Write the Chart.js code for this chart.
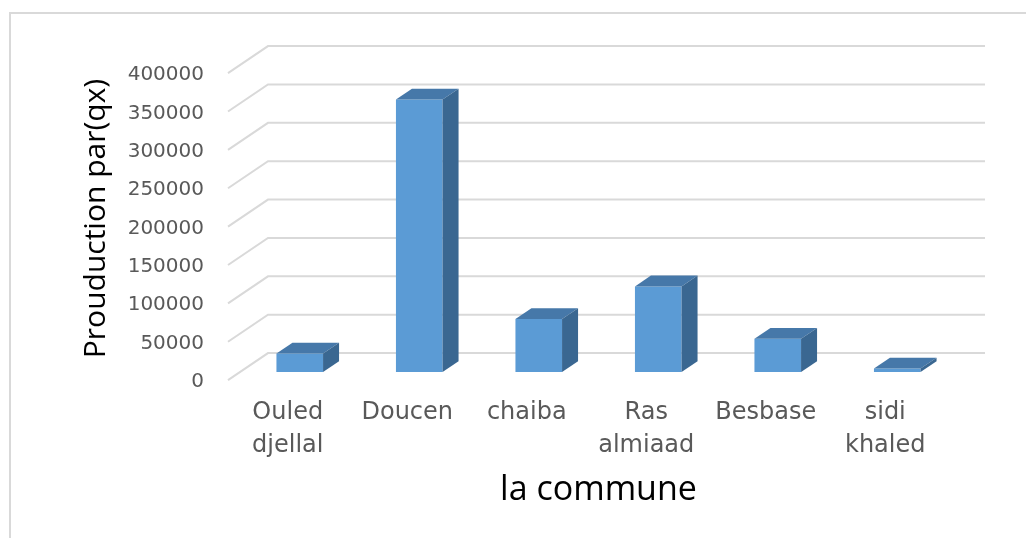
<!DOCTYPE html>
<html>
<head>
<meta charset="utf-8">
<script src="https://cdn.jsdelivr.net/npm/chart.js@4.4.1/dist/chart.umd.min.js"></script>
<style>
  html, body { margin: 0; padding: 0; background: #ffffff; }
  #frame { position: absolute; left: 9px; top: 12px; width: 1100px; height: 600px;
           border-top: 2px solid #d9d9d9; border-left: 2px solid #d9d9d9; }
  #c { position: absolute; left: 0; top: 0; }
</style>
</head>
<body>
<div id="frame"></div>
<canvas id="c" width="1026" height="538"></canvas>
<script>
const categories = [["Ouled", "djellal"], "Doucen", "chaiba", ["Ras", "almiaad"], "Besbase", ["sidi", "khaled"]];
const production = [24000, 355000, 69000, 111500, 43400, 4600];
const yMin = 0;
const yMax = 400000;
const yStep = 50000;
const xTitle = "la commune";
const yTitle = "Prouduction par(qx)";

// 3D projection: full depth vector and the bars' position inside the depth
const DEPTH = { dx: 40, dy: -27 };
const BAR_FRONT = 0.3;
const BAR_DEPTH = 0.4;

const threeD = {
  id: 'threeD',
  beforeDatasetsDraw(chart) {
    const { ctx, chartArea } = chart;
    const ys = chart.scales.y;
    const fx = -BAR_FRONT * DEPTH.dx, fy = -BAR_FRONT * DEPTH.dy;
    const bx = (1 - BAR_FRONT) * DEPTH.dx, by = (1 - BAR_FRONT) * DEPTH.dy;
    ctx.save();
    ctx.strokeStyle = '#d9d9d9';
    ctx.lineWidth = 2;
    ys.ticks.forEach(t => {
      const y = ys.getPixelForValue(t.value);
      ctx.beginPath();
      ctx.moveTo(chartArea.left + fx, y + fy);
      ctx.lineTo(chartArea.left + bx, y + by);
      ctx.lineTo(chartArea.right + bx, y + by);
      ctx.stroke();
    });
    ctx.restore();
  },
  afterDatasetsDraw(chart) {
    const { ctx } = chart;
    const dx = BAR_DEPTH * DEPTH.dx, dy = BAR_DEPTH * DEPTH.dy;
    const meta = chart.getDatasetMeta(0);
    ctx.save();
    meta.data.forEach(bar => {
      const p = bar.getProps(['x', 'y', 'base', 'width'], true);
      const l = p.x - p.width / 2, r = p.x + p.width / 2;
      const top = Math.min(p.y, p.base), bot = Math.max(p.y, p.base);
      // top face
      ctx.fillStyle = '#4678A9';
      ctx.beginPath();
      ctx.moveTo(l, top);
      ctx.lineTo(r, top);
      ctx.lineTo(r + dx, top + dy);
      ctx.lineTo(l + dx, top + dy);
      ctx.closePath();
      ctx.fill();
      // side face
      ctx.fillStyle = '#3A6791';
      ctx.beginPath();
      ctx.moveTo(r, top);
      ctx.lineTo(r + dx, top + dy);
      ctx.lineTo(r + dx, bot + dy);
      ctx.lineTo(r, bot);
      ctx.closePath();
      ctx.fill();
    });
    ctx.restore();
  }
};

new Chart(document.getElementById('c'), {
  type: 'bar',
  data: {
    labels: categories,
    datasets: [{
      data: production,
      backgroundColor: '#5B9BD5',
      borderWidth: 0,
      barPercentage: 0.39,
      categoryPercentage: 1.0
    }]
  },
  plugins: [threeD],
  options: {
    responsive: false,
    animation: false,
    devicePixelRatio: 1,
    layout: { padding: { left: 0, top: 65, right: 69, bottom: 0 } },
    plugins: { legend: { display: false }, tooltip: { enabled: false } },
    scales: {
      x: {
        grid: { display: false, drawTicks: false },
        border: { display: false },
        ticks: {
          color: '#595959',
          font: { family: 'DejaVu Sans', size: 24, lineHeight: 1.375 },
          padding: 24,
          labelOffset: -12,
          maxRotation: 0,
          autoSkip: false
        },
        title: {
          display: true,
          text: xTitle,
          color: '#000000',
          font: { family: 'Open Sans', size: 34, lineHeight: 1.2 },
          padding: { top: 0, bottom: 27 }
        },
        afterFit(scale) { scale.height = 166; }
      },
      y: {
        min: yMin,
        max: yMax,
        grid: { display: false, drawTicks: false },
        border: { display: false },
        ticks: {
          stepSize: yStep,
          color: '#595959',
          font: { family: 'DejaVu Sans', size: 20 },
          padding: 36,
          labelOffset: 10,
          callback: v => String(v)
        },
        title: {
          display: true,
          text: yTitle,
          color: '#000000',
          font: { family: 'Open Sans', size: 30, lineHeight: 1.2 },
          padding: { top: 78, bottom: 0 }
        },
        afterFit(scale) { scale.width = 240; }
      }
    }
  }
});
</script>
</body>
</html>
